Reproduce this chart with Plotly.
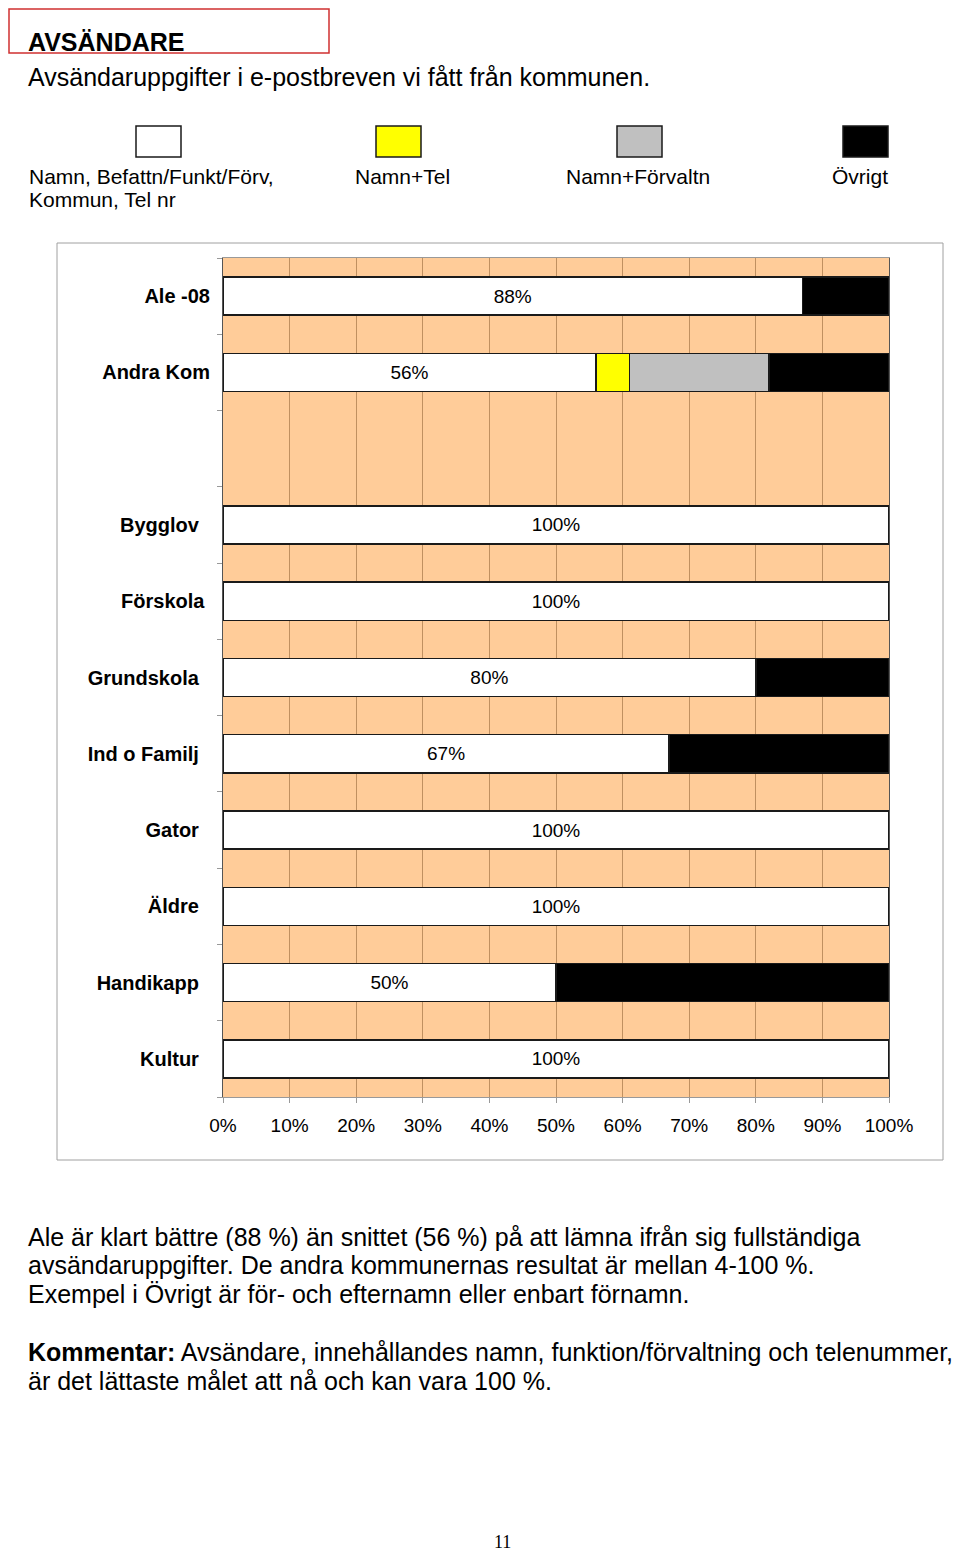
import plotly.graph_objects as go

# page is 960x1562; the html body adds an 8px margin on every side
W, H = 944, 1546
OFF = 8

categories = ["Ale -08", "Andra Kom", " ", "Bygglov", "Förskola", "Grundskola",
              "Ind o Familj", "Gator", "Äldre", "Handikapp", "Kultur"]
bar_cats = ["Ale -08", "Andra Kom", "Bygglov", "Förskola", "Grundskola",
            "Ind o Familj", "Gator", "Äldre", "Handikapp", "Kultur"]
full_info = [87, 56, 100, 100, 80, 67, 100, 100, 50, 100]
namn_tel = [0, 5, 0, 0, 0, 0, 0, 0, 0, 0]
namn_forv = [0, 21, 0, 0, 0, 0, 0, 0, 0, 0]
ovrigt = [13, 18, 0, 0, 20, 33, 0, 0, 50, 0]
value_labels = ["88%", "56%", "100%", "100%", "80%", "67%", "100%", "100%", "50%", "100%"]
x_ticks = list(range(0, 101, 10))

series = [
    ("Namn, Befattn/Funkt/Förv, Kommun, Tel nr", full_info, "#FFFFFF"),
    ("Namn+Tel", namn_tel, "#FFFF00"),
    ("Namn+Förvaltn", namn_forv, "#C0C0C0"),
    ("Övrigt", ovrigt, "#000000"),
]

FONT = "Arial, Liberation Sans, sans-serif"
NB = "\u00a0"

# the source labels were not all flush right
label_pad = {"Bygglov": 2, "Förskola": 1, "Grundskola": 2, "Ind o Familj": 2,
             "Gator": 2, "Äldre": 2, "Handikapp": 2, "Kultur": 2}


def px_x(x):
    return (x - OFF) / W


def px_y(y):
    return 1 - (y - OFF) / H


fig = go.Figure()
for i, (name, vals, color) in enumerate(series):
    fig.add_trace(go.Bar(
        y=bar_cats, x=vals, orientation="h", name=name,
        marker=dict(color=color, line=dict(color="#1a1a1a", width=1.5)),
        width=0.5,
        text=value_labels if i == 0 else None,
        textposition="inside" if i == 0 else "none",
        insidetextanchor="middle",
        textfont=dict(family=FONT, size=19, color="black"),
        showlegend=False,
    ))

fig.update_layout(
    width=W, height=H,
    margin=dict(l=0, r=0, t=0, b=0),
    barmode="stack",
    paper_bgcolor="white",
    plot_bgcolor="#FFCC99",
    font=dict(family=FONT, color="black"),
    xaxis=dict(
        domain=[px_x(223), px_x(889)],
        range=[0, 100],
        tickvals=x_ticks,
        ticktext=[f"{v}%" for v in x_ticks],
        tickfont=dict(size=19, family=FONT),
        showgrid=True, gridcolor="#C09060", gridwidth=1,
        showline=True, linecolor="#999999", mirror=True,
        ticks="outside", ticklen=5, tickcolor="#999999",
        ticklabelstandoff=6, automargin=False,
        zeroline=False, fixedrange=True,
    ),
    yaxis=dict(
        domain=[px_y(1097), px_y(258)],
        type="category",
        categoryorder="array",
        categoryarray=categories[::-1],
        labelalias={k: k + NB * n for k, n in label_pad.items()},
        tickson="boundaries",
        ticks="outside", ticklen=5, tickcolor="#999999",
        tickfont=dict(size=20, family=FONT, weight="bold"),
        showline=True, linecolor="#555555", mirror=True,
        showgrid=False, ticklabelstandoff=8, automargin=False,
        fixedrange=True,
    ),
)

# chart frame and title box
fig.add_shape(type="rect", xref="paper", yref="paper",
              x0=px_x(57), x1=px_x(943), y0=px_y(1160), y1=px_y(243),
              line=dict(color="#A0A0A0", width=1), layer="below")
fig.add_shape(type="rect", xref="paper", yref="paper",
              x0=px_x(9), x1=px_x(329), y0=px_y(53), y1=px_y(9),
              line=dict(color="#D03030", width=1.5))

# legend swatches
legend_boxes = [(136, 181), (376, 421), (617, 662), (843, 888)]
for (x0, x1), (name, _, color) in zip(legend_boxes, series):
    fig.add_shape(type="rect", xref="paper", yref="paper",
                  x0=px_x(x0), x1=px_x(x1), y0=px_y(157), y1=px_y(126),
                  fillcolor=color, line=dict(color="#1a1a1a", width=1.5))

for y, t in [(176, "Namn, Befattn/Funkt/Förv,"), (200, "Kommun, Tel nr")]:
    fig.add_annotation(x=px_x(27), y=px_y(y), xref="paper", yref="paper",
                       text=t, xanchor="left", yanchor="middle", showarrow=False,
                       font=dict(size=21, family=FONT))
for cx, label in [(402, "Namn+Tel"), (638, "Namn+Förvaltn"), (860, "Övrigt")]:
    fig.add_annotation(x=px_x(cx), y=px_y(176), xref="paper", yref="paper",
                       text=label, xanchor="center", yanchor="middle", showarrow=False,
                       font=dict(size=21, family=FONT))

fig.add_annotation(x=px_x(26), y=px_y(42), xref="paper", yref="paper",
                   text="<b>AVSÄNDARE</b>", xanchor="left", yanchor="middle",
                   showarrow=False, font=dict(size=25, family=FONT))
fig.add_annotation(x=px_x(26), y=px_y(77), xref="paper", yref="paper",
                   text="Avsändaruppgifter i e-postbreven vi fått från kommunen.",
                   xanchor="left", yanchor="middle", showarrow=False,
                   font=dict(size=25, family=FONT))

body = [
    (1237, "Ale är klart bättre (88 %) än snittet (56 %) på att lämna ifrån sig fullständiga"),
    (1265, "avsändaruppgifter. De andra kommunernas resultat är mellan 4-100 %."),
    (1294, "Exempel i Övrigt är för- och efternamn eller enbart förnamn."),
    (1352, "<b>Kommentar:</b> Avsändare, innehållandes namn, funktion/förvaltning och telenummer,"),
    (1381, "är det lättaste målet att nå och kan vara 100 %."),
]
for y, t in body:
    fig.add_annotation(x=px_x(26), y=px_y(y), xref="paper", yref="paper",
                       text=t, xanchor="left", yanchor="middle", showarrow=False,
                       font=dict(size=25, family=FONT))

fig.add_annotation(x=px_x(502), y=px_y(1542), xref="paper", yref="paper",
                   text="11", xanchor="center", yanchor="middle", showarrow=False,
                   font=dict(size=18, family="Liberation Serif, Times New Roman, serif"))

fig.write_html("out.html", config={"responsive": False})
